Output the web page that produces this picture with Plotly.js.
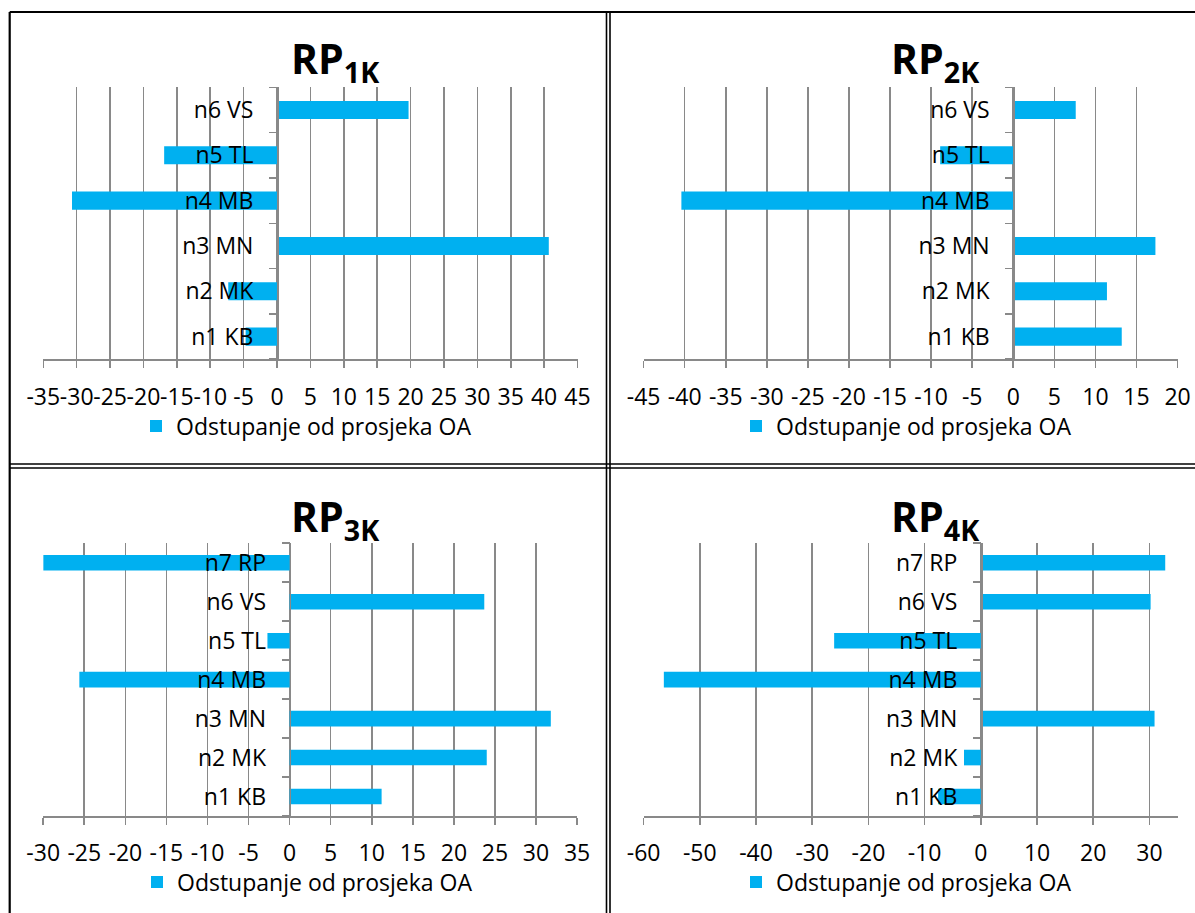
<!DOCTYPE html>
<html>
<head>
<meta charset="utf-8">
<script src="https://cdn.plot.ly/plotly-3.0.1.min.js"></script>
<style>
  html, body { margin: 0; padding: 0; background: #ffffff; }
  #chart { width: 1195px; height: 913px; }
</style>
</head>
<body>
<div id="chart"></div>
<script>
// ---------------- DATA ----------------
const categories6 = ['n1 KB', 'n2 MK', 'n3 MN', 'n4 MB', 'n5 TL', 'n6 VS'];
const categories7 = ['n1 KB', 'n2 MK', 'n3 MN', 'n4 MB', 'n5 TL', 'n6 VS', 'n7 RP'];

const rp1k = [-4.7, -7.3, 40.7, -30.7, -16.9, 19.7];
const rp2k = [13.2, 11.4, 17.3, -40.4, -8.9, 7.6];
const rp3k = [11.2, 24.0, 31.8, -25.6, -2.7, 23.7, -30.0];
const rp4k = [-7.6, -3.0, 30.9, -56.4, -26.1, 30.2, 32.8];

// x tick values and labels (labels use a plain hyphen as in the original)
const ticks1 = [-35, -30, -25, -20, -15, -10, -5, 0, 5, 10, 15, 20, 25, 30, 35, 40, 45];
const ticks2 = [-45, -40, -35, -30, -25, -20, -15, -10, -5, 0, 5, 10, 15, 20];
const ticks3 = [-30, -25, -20, -15, -10, -5, 0, 5, 10, 15, 20, 25, 30, 35];
const ticks4 = [-60, -50, -40, -30, -20, -10, 0, 10, 20, 30];
const tickLabels1 = ['-35', '-30', '-25', '-20', '-15', '-10', '-5', '0', '5', '10', '15', '20', '25', '30', '35', '40', '45'];
const tickLabels2 = ['-45', '-40', '-35', '-30', '-25', '-20', '-15', '-10', '-5', '0', '5', '10', '15', '20'];
const tickLabels3 = ['-30', '-25', '-20', '-15', '-10', '-5', '0', '5', '10', '15', '20', '25', '30', '35'];
const tickLabels4 = ['-60', '-50', '-40', '-30', '-20', '-10', '0', '10', '20', '30'];

const seriesName = 'Odstupanje od prosjeka OA';
const panelTitles = ['RP<sub>1K</sub>', 'RP<sub>2K</sub>', 'RP<sub>3K</sub>', 'RP<sub>4K</sub>'];

// ---------------- STYLE / LAYOUT ----------------
const W = 1195, H = 913;
const FONT = 'Open Sans, Noto Sans, DejaVu Sans, sans-serif';
const BAR = '#00B0F0';
const GRID = '#898989';
const px = p => p / W;
const py = p => 1 - p / H;

const panels = [
  {cats: categories6, vals: rp1k, tv: ticks1, tt: tickLabels1, range: [-35, 45], xd: [43.3, 577.5], yd: [87.3, 359.3],
   title: {x: 335, y: 60}, legend: {x: 136, y: 426}},
  {cats: categories6, vals: rp2k, tv: ticks2, tt: tickLabels2, range: [-45, 20], xd: [643.6, 1177.6], yd: [87.3, 359.3],
   title: {x: 935, y: 60}, legend: {x: 736, y: 426}},
  {cats: categories7, vals: rp3k, tv: ticks3, tt: tickLabels3, range: [-30, 35], xd: [43.2, 577.1], yd: [543.3, 816],
   title: {x: 335, y: 518}, legend: {x: 137, y: 882}},
  {cats: categories7, vals: rp4k, tv: ticks4, tt: tickLabels4, range: [-60, 35], xd: [643.6, 1177.6], yd: [543.3, 816],
   title: {x: 935, y: 518}, legend: {x: 736, y: 882}}
];

const data = [];
const layout = {
  width: W, height: H,
  margin: {l: 0, r: 0, t: 0, b: 0, pad: 0},
  paper_bgcolor: '#ffffff', plot_bgcolor: 'rgba(0,0,0,0)',
  font: {family: FONT, size: 23, color: '#000000'},
  bargap: 0.6,
  annotations: [],
  shapes: []
};

panels.forEach((p, i) => {
  const n = i + 1;
  const xa = 'x' + (n === 1 ? '' : n);
  const ya = 'y' + (n === 1 ? '' : n);
  const legKey = 'legend' + (n === 1 ? '' : n);
  data.push({
    type: 'bar', orientation: 'h',
    y: p.cats, x: p.vals,
    xaxis: xa, yaxis: ya,
    name: seriesName,
    marker: {color: BAR, line: {width: 0}},
    showlegend: true,
    legend: legKey,
    hoverinfo: 'skip'
  });

  const xdom = [px(p.xd[0]), px(p.xd[1])];
  const ydom = [py(p.yd[1]), py(p.yd[0])];
  const zeroPos = xdom[0] + (0 - p.range[0]) / (p.range[1] - p.range[0]) * (xdom[1] - xdom[0]);

  layout['xaxis' + (n === 1 ? '' : n)] = {
    domain: xdom, range: p.range,
    tickmode: 'array', tickvals: p.tv, ticktext: p.tt,
    anchor: ya,
    showgrid: true, gridcolor: GRID, gridwidth: 1.6,
    zeroline: false,
    showline: true, linecolor: GRID, linewidth: 1.8,
    ticks: 'outside', ticklen: 7, tickcolor: GRID, tickwidth: 1.6,
    tickangle: 0,
    tickfont: {family: FONT, size: 23, color: '#000'},
    ticklabelstandoff: 9,
    fixedrange: true
  };
  layout['yaxis' + (n === 1 ? '' : n)] = {
    domain: ydom, type: 'category',
    anchor: 'free', position: zeroPos,
    showgrid: false, zeroline: false,
    showline: true, linecolor: GRID, linewidth: 1.8,
    ticks: 'outside', ticklen: 8, tickcolor: GRID, tickwidth: 1.6,
    tickson: 'boundaries',
    tickfont: {family: FONT, size: 23, color: '#000'},
    ticklabelstandoff: 19,
    fixedrange: true
  };
  layout[legKey] = {
    x: px(p.legend.x), y: py(p.legend.y), xanchor: 'left', yanchor: 'middle',
    orientation: 'h', bgcolor: 'rgba(0,0,0,0)', borderwidth: 0,
    font: {family: FONT, size: 23, color: '#000'}
  };
  layout.annotations.push({
    xref: 'paper', yref: 'paper',
    x: px(p.title.x), y: py(p.title.y), xanchor: 'center', yanchor: 'middle',
    text: panelTitles[i], showarrow: false,
    font: {family: FONT, size: 41, weight: 700, color: '#000'}
  });
});

// panel frame lines (outer frame + double separators)
const frame = (x0, y0, x1, y1, w) => ({
  type: 'line', xref: 'paper', yref: 'paper', layer: 'above',
  x0: px(x0), y0: py(y0), x1: px(x1), y1: py(y1),
  line: {color: '#000000', width: w}
});
layout.shapes.push(
  frame(9.7, 12, 1195, 12, 2.2),
  frame(9.7, 12, 9.7, 913, 2.2),
  frame(606.5, 12, 606.5, 913, 1.6),
  frame(610, 12, 610, 913, 1.6),
  frame(9.7, 464, 1195, 464, 1.6),
  frame(9.7, 468, 1195, 468, 1.6)
);

Plotly.newPlot('chart', data, layout, {displayModeBar: false, staticPlot: true});
</script>
</body>
</html>
